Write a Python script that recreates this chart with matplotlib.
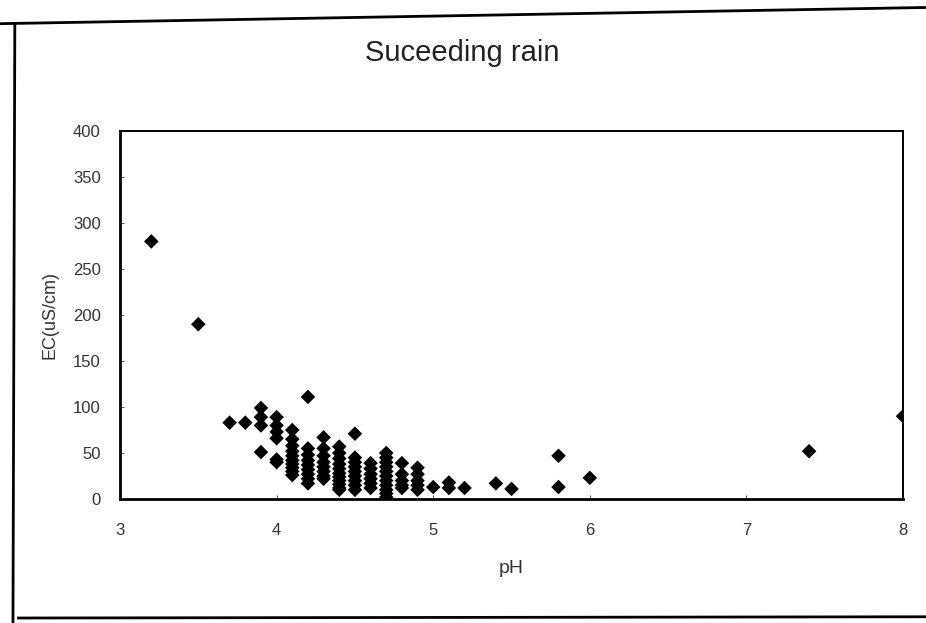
import matplotlib
matplotlib.use("Agg")
import matplotlib.pyplot as plt
from matplotlib.lines import Line2D

# pH / EC pairs, grouped roughly by pH column
ph = (
    [3.2, 3.5, 3.7, 3.8]
    + [3.9] * 4
    + [4.0] * 6
    + [4.1] * 10
    + [4.2] * 9
    + [4.3] * 8
    + [4.4] * 11
    + [4.5] * 9
    + [4.6] * 6
    + [4.7] * 11
    + [4.8] * 5
    + [4.9] * 5
    + [5.0, 5.1, 5.1, 5.2, 5.4, 5.5, 5.8, 5.8, 6.0, 7.4, 8.0]
)
ec = (
    [280, 190, 83, 83]
    + [99, 89, 80, 51]
    + [89, 80, 73, 66, 43, 40]
    + [75, 65, 58, 52, 47, 42, 38, 34, 30, 26]
    + [111, 55, 48, 42, 37, 32, 27, 22, 17]
    + [67, 55, 47, 40, 35, 30, 25, 22]
    + [57, 50, 44, 38, 33, 28, 24, 20, 16, 12, 10]
    + [71, 45, 40, 35, 30, 25, 20, 15, 10]
    + [39, 33, 27, 22, 17, 12]
    + [50, 45, 40, 35, 30, 25, 20, 15, 10, 6, 2]
    + [39, 27, 20, 15, 12]
    + [34, 27, 20, 15, 10]
    + [13, 18, 12, 12, 17, 11, 47, 13, 23, 52, 90]
)
x_ticks = [3, 4, 5, 6, 7, 8]
y_ticks = list(range(0, 401, 50))

plt.rcParams["font.family"] = ["Liberation Sans", "DejaVu Sans"]

fig = plt.figure(figsize=(9.26, 6.23), dpi=100)
ax = fig.add_axes([0.1296, 0.199, 0.8456, 0.5907])

ax.scatter(ph, ec, marker="D", s=55, color="black", edgecolors="none", zorder=3)

ax.set_xlim(3, 8)
ax.set_ylim(0, 400)
ax.set_xticks(x_ticks)
ax.set_yticks(y_ticks)
ax.tick_params(axis="both", direction="in", length=3, width=0.6, colors="#333333", labelsize=12)
ax.tick_params(axis="y", pad=14)
ax.tick_params(axis="x", pad=17)

for side in ("left", "bottom"):
    ax.spines[side].set_linewidth(2.0)
for side in ("top", "right"):
    ax.spines[side].set_linewidth(1.4)

ax.set_xlabel("pH", fontsize=14, color="#333333", labelpad=16)
ax.set_ylabel("EC(uS/cm)", fontsize=13, color="#333333", labelpad=10)
fig.text(0.499, 0.915, "Suceeding rain", ha="center", va="center", fontsize=21, color="#222222")

# scanned page frame around the chart
fig.add_artist(Line2D([0.0, 1.0], [0.962, 0.988], transform=fig.transFigure, color="black", lw=2.0))
fig.add_artist(Line2D([0.016, 0.014], [0.96, 0.0], transform=fig.transFigure, color="black", lw=2.0))
fig.add_artist(Line2D([0.02, 1.0], [0.008, 0.01], transform=fig.transFigure, color="black", lw=2.0))

fig.savefig("out.png", dpi=100)
